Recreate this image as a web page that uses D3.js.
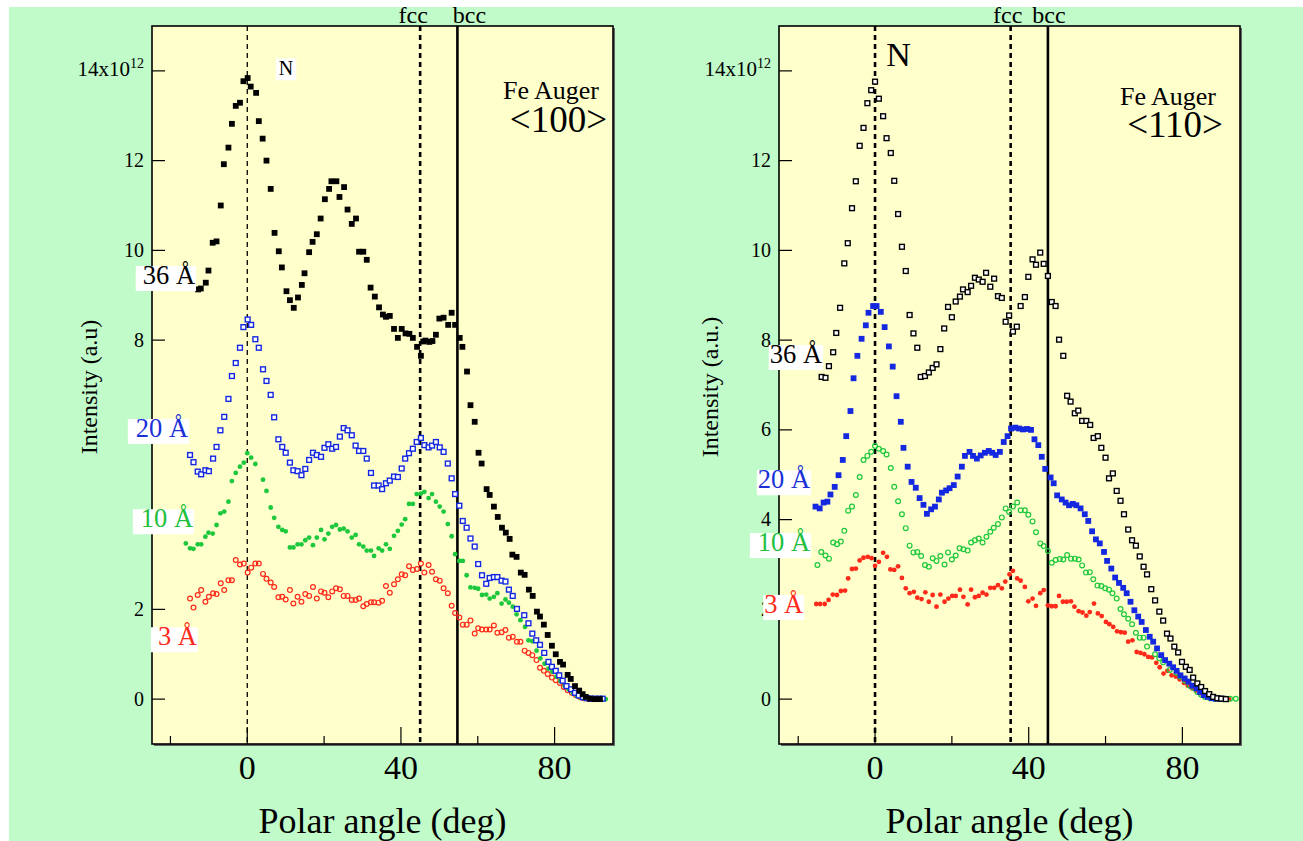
<!DOCTYPE html>
<html><head><meta charset="utf-8">
<script src="https://cdn.jsdelivr.net/npm/d3@7"></script>
<style>
body{margin:0;background:#fff;}
svg{display:block;font-family:"Liberation Serif","Times New Roman",serif;}
</style>
</head><body>
<svg id="c" width="1303" height="841"></svg>
<script>
// ---------- data: [polar angle (deg), intensity (x1e12)] ----------
const fe100_36 = [[-12.8,9.13],[-12.1,9.15],[-10.8,9.28],[-10.1,9.55],[-9.0,10.17],[-8.0,10.20],[-6.9,11.0],[-6.1,11.92],[-4.9,12.29],[-4.0,12.82],[-3.0,13.22],[-1.9,13.29],[-1.0,13.77],[0.1,13.84],[0.9,13.65],[2.3,13.51],[3.0,12.88],[4.0,12.49],[5.0,12.0],[6.1,11.37],[7.1,10.39],[8.2,9.98],[9.0,9.62],[10.2,9.09],[11.1,8.89],[12.1,8.72],[13.2,8.95],[14.2,9.23],[14.9,9.49],[16.1,9.96],[17.0,10.19],[18.1,10.36],[19.1,10.71],[20.2,11.14],[21.3,11.37],[21.9,11.54],[23.2,11.54],[24.0,11.19],[25.2,11.41],[26.1,10.91],[27.2,10.59],[28.3,10.71],[29.1,9.97],[30.2,9.97],[31.1,9.79],[32.1,9.17],[33.2,8.97],[34.3,8.73],[35.3,8.57],[36.1,8.52],[37.1,8.54],[38.2,8.25],[39.2,8.05],[40.2,8.25],[41.2,8.15],[42.2,8.14],[43.1,8.05],[44.2,7.85],[45.2,7.65],[45.8,7.97],[46.4,7.99],[47.4,7.96],[48.2,7.98],[49.1,8.12],[50.0,8.48],[51.1,8.50],[52.3,8.34],[53.2,8.61],[54.1,8.34],[55.3,8.05],[56.0,7.85],[57.2,7.30],[58.1,6.55],[59.2,6.18],[60.2,5.49],[61.0,5.25],[62.3,4.68],[63.1,4.55],[64.2,4.29],[65.2,4.06],[66.3,3.82],[67.3,3.71],[68.3,3.57],[69.0,3.22],[70.1,3.17],[71.2,2.82],[72.2,2.77],[73.3,2.44],[74.3,2.30],[75.4,1.95],[76.2,1.84],[77.2,1.66],[78.2,1.43],[79.3,1.19],[80.3,1.0],[81.4,0.83],[82.2,0.77],[83.4,0.54],[84.2,0.45],[85.3,0.29],[86.4,0.19],[87.3,0.11],[88.1,0.05],[89.2,0.01],[90.5,0],[91.8,0]];
const fe100_20 = [[-14.9,5.44],[-14.0,5.28],[-12.9,5.07],[-12.0,5.01],[-10.9,5.10],[-10.0,5.08],[-8.9,5.36],[-8.0,5.62],[-7.0,5.99],[-6.0,6.29],[-4.9,6.69],[-4.0,7.20],[-3.0,7.49],[-1.9,7.83],[-1.0,8.29],[0.1,8.46],[1.0,8.34],[2.1,8.02],[3.0,7.83],[4.1,7.35],[5.0,7.09],[6.1,6.78],[7.0,6.28],[8.1,5.79],[9.1,5.62],[10.0,5.49],[11.1,5.27],[12.0,5.10],[13.1,5.08],[14.1,4.99],[15.1,5.13],[16.1,5.33],[17.1,5.49],[18.1,5.44],[19.2,5.40],[20.1,5.60],[21.1,5.68],[22.1,5.58],[23.1,5.62],[24.1,5.85],[25.1,6.04],[26.1,5.99],[27.2,5.88],[28.2,5.65],[29.1,5.53],[30.2,5.53],[31.1,5.36],[32.2,5.04],[33.0,4.76],[34.2,4.76],[35.1,4.68],[36.1,4.81],[37.1,4.87],[38.2,4.96],[39.2,4.95],[40.2,5.14],[41.1,5.36],[42.1,5.48],[43.1,5.58],[44.1,5.73],[45.2,5.82],[46.1,5.66],[47.2,5.61],[48.1,5.65],[49.1,5.73],[50.1,5.61],[51.1,5.51],[52.2,5.25],[53.2,4.92],[54.1,4.57],[55.2,4.31],[56.1,3.97],[57.1,3.82],[58.1,3.58],[59.2,3.40],[60.1,3.01],[61.1,2.76],[62.2,2.57],[63.1,2.70],[64.2,2.72],[65.1,2.72],[66.2,2.64],[67.2,2.62],[68.1,2.44],[69.1,2.30],[70.2,2.01],[72.1,1.87],[73.2,1.69],[74.2,1.46],[75.2,1.31],[76.2,1.21],[77.3,1.03],[78.4,0.83],[79.3,0.72],[80.3,0.63],[81.2,0.53],[82.1,0.41],[83.1,0.29],[84.3,0.22],[85.3,0.14],[86.3,0.08],[87.4,0.04],[88.5,0.02],[89.5,0.01],[90.5,0.01],[91.6,0.01],[92.5,0.01]];
const fe100_10 = [[-16.0,3.47],[-14.9,3.36],[-14.0,3.35],[-12.9,3.45],[-12.0,3.45],[-10.9,3.62],[-10.1,3.71],[-9.0,3.69],[-8.0,3.88],[-7.0,4.14],[-6.0,4.18],[-4.9,4.40],[-4.0,4.86],[-3.0,5.04],[-1.9,5.18],[-0.9,5.27],[0.0,5.48],[1.0,5.38],[2.1,5.24],[4.1,4.89],[5.0,4.64],[6.1,4.27],[7.0,4.04],[8.1,3.84],[9.1,3.77],[10.0,3.74],[11.1,3.38],[12.0,3.38],[13.1,3.45],[14.1,3.45],[15.1,3.54],[16.1,3.60],[17.1,3.43],[18.1,3.60],[19.2,3.77],[20.1,3.56],[21.1,3.69],[22.1,3.84],[23.1,3.88],[24.1,3.78],[25.1,3.80],[26.1,3.74],[27.2,3.60],[28.2,3.66],[29.1,3.45],[30.2,3.40],[31.1,3.31],[32.2,3.31],[33.0,3.19],[34.2,3.36],[35.1,3.31],[36.1,3.45],[37.1,3.35],[38.2,3.64],[39.2,3.75],[40.2,3.89],[41.1,4.01],[42.1,4.35],[43.1,4.35],[44.1,4.57],[45.2,4.58],[46.1,4.62],[47.2,4.48],[48.1,4.57],[49.1,4.40],[50.1,4.29],[51.1,4.18],[52.2,3.90],[53.2,3.63],[54.1,3.23],[55.2,3.08],[56.1,3.08],[57.1,2.76],[58.1,2.49],[59.2,2.48],[60.1,2.46],[61.1,2.32],[62.2,2.33],[63.1,2.24],[64.2,2.28],[65.1,2.36],[66.2,2.13],[67.2,2.22],[68.1,2.15],[69.1,2.06],[70.1,1.89],[71.1,1.76],[72.3,1.61],[73.2,1.31],[74.2,1.29],[75.3,1.08],[76.3,0.91],[77.4,0.79],[78.4,0.68],[79.4,0.61],[80.5,0.50],[81.5,0.41],[82.6,0.30],[83.6,0.22],[84.7,0.14],[85.7,0.08],[86.7,0.04],[87.8,0.01],[88.8,0.01],[90.0,0],[91.3,0],[93.3,0]];
const fe100_3 = [[-14.9,2.24],[-14.0,2.04],[-12.9,2.32],[-12.0,2.43],[-10.9,2.17],[-10.0,2.28],[-8.9,2.36],[-8.0,2.34],[-6.9,2.58],[-6.0,2.43],[-4.9,2.65],[-4.0,2.65],[-3.0,3.10],[-1.9,3.00],[-0.9,3.02],[0.1,2.82],[1.0,2.93],[2.1,3.02],[3.0,3.02],[4.1,2.79],[5.0,2.68],[6.1,2.60],[7.0,2.50],[8.1,2.27],[9.1,2.28],[10.0,2.22],[11.1,2.43],[12.0,2.13],[13.1,2.28],[14.1,2.17],[15.1,2.34],[16.1,2.30],[17.1,2.50],[18.1,2.24],[19.2,2.40],[20.1,2.37],[21.1,2.27],[22.1,2.40],[23.1,2.47],[24.1,2.45],[25.1,2.30],[26.1,2.30],[27.2,2.21],[28.2,2.21],[29.1,2.24],[30.2,2.07],[31.1,2.12],[32.2,2.16],[33.0,2.16],[34.2,2.15],[35.1,2.19],[36.1,2.52],[37.1,2.37],[38.2,2.56],[39.2,2.67],[40.2,2.78],[41.1,2.76],[42.1,2.96],[43.1,2.88],[44.2,2.90],[45.2,3.02],[46.1,2.82],[47.2,2.99],[48.1,2.84],[49.1,2.67],[50.1,2.64],[51.1,2.47],[52.2,2.36],[53.2,2.08],[54.1,1.92],[55.2,1.82],[56.1,1.66],[57.1,1.66],[58.1,1.75],[59.2,1.46],[60.1,1.58],[61.1,1.55],[62.2,1.55],[63.1,1.55],[64.2,1.64],[65.1,1.48],[66.2,1.49],[67.2,1.54],[68.1,1.37],[69.1,1.39],[70.2,1.28],[71.1,1.28],[72.2,1.08],[73.2,1.03],[74.2,0.98],[75.3,0.87],[76.2,0.70],[77.2,0.63],[78.2,0.56],[79.3,0.48],[80.3,0.42],[81.4,0.36],[82.4,0.27],[83.4,0.20],[84.5,0.14],[85.5,0.09],[86.6,0.05],[87.6,0.02],[88.7,0.01],[90.0,0]];

const fe110_36 = [[-13.9,7.18],[-12.9,7.16],[-12.0,7.42],[-10.9,7.73],[-10.1,8.16],[-9.1,8.72],[-8.0,9.71],[-7.1,10.16],[-6.0,10.94],[-5.0,11.54],[-4.0,12.33],[-3.0,12.73],[-2.0,13.28],[-1.0,13.57],[0,13.76],[1.0,13.38],[2.1,12.99],[3.0,12.5],[4.1,12.17],[5.0,11.55],[6.0,10.81],[7.0,10.08],[8.0,9.54],[9.0,8.56],[10.0,8.15],[11.0,7.83],[11.9,7.18],[13.0,7.20],[14.0,7.28],[15.0,7.38],[16.0,7.46],[17.0,7.80],[18.0,8.26],[19.0,8.74],[20.0,8.51],[21.0,8.86],[22.1,8.97],[22.9,9.13],[24.1,9.07],[25.0,9.21],[26.0,9.39],[27.0,9.35],[28.0,9.30],[28.9,9.50],[30.0,9.19],[31.0,9.37],[32.0,8.98],[33.0,8.94],[34.0,8.41],[34.9,8.55],[35.9,8.19],[36.9,8.30],[37.9,8.76],[39.0,8.96],[39.9,9.41],[41.0,9.80],[41.9,9.68],[43.0,9.95],[43.9,9.70],[45.0,9.43],[46.0,8.85],[47.0,8.76],[47.9,8.01],[49.0,7.65],[50.0,6.76],[50.9,6.63],[52.0,6.37],[52.9,6.43],[53.9,6.20],[55.0,6.20],[56.0,6.11],[56.9,5.82],[58.0,5.86],[58.9,5.60],[60.0,5.38],[60.9,4.92],[61.9,5.03],[62.9,4.64],[63.9,4.42],[64.8,4.12],[65.9,3.78],[66.9,3.54],[67.9,3.42],[68.9,3.18],[69.9,2.95],[70.8,2.78],[71.9,2.45],[72.9,2.20],[74.0,1.95],[75.0,1.75],[76.0,1.46],[76.9,1.35],[77.9,1.17],[78.9,1.04],[79.9,0.83],[80.9,0.72],[81.9,0.65],[82.8,0.48],[83.9,0.35],[84.9,0.27],[85.9,0.18],[87.0,0.11],[88.0,0.05],[89.1,0.02],[90.1,0.01],[91.3,0]];
const fe110_20 = [[-15.5,4.29],[-14.4,4.25],[-13.4,4.38],[-12.4,4.40],[-11.6,4.56],[-10.5,4.73],[-9.5,4.99],[-8.4,5.33],[-7.5,5.86],[-6.4,6.42],[-5.6,7.15],[-4.6,7.65],[-3.5,8.03],[-2.4,8.33],[-1.7,8.61],[-0.5,8.76],[0.4,8.76],[1.5,8.63],[2.5,8.29],[3.6,7.86],[4.6,7.41],[5.6,6.75],[6.7,6.18],[7.4,5.60],[8.5,5.18],[9.5,4.84],[10.6,4.71],[11.6,4.48],[12.6,4.33],[13.5,4.13],[14.6,4.23],[15.6,4.29],[16.6,4.45],[17.4,4.60],[18.5,4.65],[19.4,4.70],[20.5,4.77],[21.5,4.96],[22.6,5.18],[23.4,5.42],[24.6,5.51],[25.5,5.42],[26.5,5.36],[27.5,5.43],[28.6,5.49],[29.6,5.53],[30.5,5.49],[31.4,5.44],[32.5,5.51],[33.5,5.73],[34.5,5.86],[35.4,6.03],[36.5,6.05],[37.5,6.03],[38.5,6.01],[39.6,6.02],[40.6,6.0],[41.5,5.79],[42.5,5.66],[43.4,5.40],[44.3,5.13],[45.7,4.94],[46.5,4.81],[47.4,4.54],[48.6,4.45],[49.6,4.38],[50.5,4.32],[51.5,4.35],[52.4,4.32],[53.5,4.25],[54.6,4.12],[55.5,3.97],[56.5,3.74],[57.5,3.56],[58.5,3.47],[59.6,3.28],[60.4,3.08],[61.5,2.91],[62.5,2.71],[63.5,2.59],[64.6,2.48],[65.5,2.36],[66.5,2.17],[67.5,1.98],[68.5,1.84],[69.4,1.72],[70.5,1.54],[71.5,1.39],[72.4,1.28],[73.4,1.13],[74.5,0.98],[75.5,0.87],[76.6,0.79],[77.6,0.71],[78.5,0.63],[79.5,0.53],[80.6,0.46],[81.6,0.39],[82.6,0.30],[83.7,0.24],[84.6,0.16],[85.6,0.09],[86.6,0.05],[87.7,0.02],[88.7,0.01],[89.8,0.01],[90.8,0.01]];
const fe110_10 = [[-15.0,2.99],[-14.0,3.28],[-12.9,3.20],[-12.0,3.13],[-10.9,3.49],[-9.9,3.45],[-8.9,3.51],[-8.0,3.75],[-7.0,4.20],[-6.0,4.29],[-5.0,4.55],[-4.0,4.95],[-3.0,5.33],[-2.0,5.42],[-1.0,5.51],[0,5.64],[1.0,5.58],[2.1,5.53],[3.0,5.45],[4.1,5.15],[5.0,4.73],[6.0,4.41],[7.0,4.12],[8.0,3.81],[9.0,3.42],[10.0,3.27],[11.0,3.28],[12.0,3.19],[13.0,2.99],[14.0,2.95],[15.0,3.14],[16.0,3.08],[17.0,3.19],[18.1,3.00],[19.0,3.27],[20.0,3.11],[21.0,3.20],[22.0,3.36],[23.0,3.34],[24.1,3.31],[25.0,3.49],[26.0,3.54],[27.0,3.58],[28.0,3.49],[29.0,3.62],[30.0,3.73],[30.9,3.82],[32.0,3.90],[33.0,4.05],[34.0,4.25],[34.9,4.17],[35.9,4.29],[37.0,4.38],[37.9,4.21],[39.0,4.21],[39.9,4.11],[41.0,3.96],[41.9,3.72],[43.0,3.47],[43.9,3.41],[45.0,3.30],[46.0,3.04],[47.0,3.10],[48.1,3.12],[49.0,3.11],[50.0,3.21],[51.0,3.13],[52.0,3.13],[53.0,3.11],[53.9,2.98],[54.9,2.82],[55.9,2.83],[56.8,2.67],[57.9,2.53],[58.9,2.52],[59.9,2.47],[60.9,2.44],[61.8,2.36],[62.9,2.24],[63.9,2.01],[64.8,1.89],[65.9,1.79],[66.9,1.67],[67.9,1.48],[68.9,1.37],[69.9,1.37],[70.8,1.17],[72.9,1.00],[74.0,0.91],[75.0,0.82],[76.7,0.65],[78.5,0.59],[79.5,0.50],[80.7,0.41],[81.9,0.30],[83.0,0.24],[83.9,0.16],[84.9,0.10],[85.9,0.05],[87.2,0.02],[88.5,0.01],[89.8,0.01],[91.1,0.01],[92.4,0.01],[93.9,0.01]];
const fe110_3 = [[-15.3,2.12],[-14.3,2.12],[-13.1,2.12],[-12.1,2.21],[-11.0,2.33],[-9.9,2.32],[-8.9,2.41],[-7.8,2.42],[-7.0,2.69],[-6.0,2.90],[-5.0,2.91],[-4.0,3.09],[-3.0,3.15],[-1.9,3.17],[-0.9,3.14],[0,2.97],[1.0,3.06],[2.1,3.26],[3.1,3.17],[4.0,2.89],[5.0,2.88],[6.0,2.96],[7.0,2.70],[8.0,2.47],[9.0,2.36],[10.1,2.39],[11.0,2.26],[12.1,2.23],[13.1,2.38],[14.0,2.17],[15.0,2.32],[16.0,2.06],[17.0,2.33],[18.1,2.17],[19.1,2.24],[20.1,2.30],[21.0,2.30],[22.1,2.44],[23.0,2.28],[24.1,2.11],[25.0,2.44],[26.0,2.27],[27.0,2.30],[28.0,2.37],[29.0,2.33],[30.0,2.48],[31.0,2.48],[32.0,2.54],[33.0,2.47],[33.9,2.62],[35.0,2.78],[35.9,2.86],[37.0,2.69],[37.9,2.64],[39.0,2.50],[39.9,2.18],[41.0,2.24],[41.9,2.08],[43.0,2.36],[43.9,2.43],[45.0,2.09],[46.0,2.07],[47.0,2.07],[47.9,2.30],[48.9,2.17],[49.9,2.17],[51.0,2.18],[51.9,2.06],[53.0,1.96],[54.0,1.93],[55.0,1.86],[55.9,1.94],[57.0,2.13],[58.0,1.91],[59.0,1.85],[60.1,1.72],[61.0,1.67],[62.0,1.61],[63.0,1.51],[64.0,1.49],[65.0,1.48],[65.9,1.28],[67.0,1.31],[68.1,1.05],[69.1,1.03],[70.1,1.00],[71.1,0.94],[72.1,0.93],[73.2,0.81],[74.1,0.71],[75.1,0.57],[76.1,0.63],[77.2,0.53],[78.3,0.50],[79.3,0.44],[80.4,0.36],[81.4,0.30],[82.5,0.24],[83.5,0.19],[84.6,0.13],[85.6,0.08],[86.6,0.05],[87.7,0.02],[88.7,0.01],[89.8,0.01],[91.1,0],[92.1,0]];

const xTicks = [-20, 0, 20, 40, 60, 80];
const xTickLabels = [0, 40, 80];
const yTicks = [0, 2, 4, 6, 8, 10, 12, 14];
const seriesNames = ["36 Å", "20 Å", "10 Å", "3 Å"];
const panelTitles = ["<100>", "<110>"];
const structureNames = ["fcc", "bcc"];

// ---------- layout / styling ----------
const svg = d3.select("#c");
svg.append("rect").attr("x", 9).attr("y", 7).attr("width", 1303 - 9).attr("height", 841 - 7).attr("fill", "#c1fbca");

const BLACK = "#000", BLUE = "#1428e0", GREEN = "#1ec83c", RED = "#ff2a1a";

const panels = [
  {
    x0: 152, x1: 613, domain: [-24.8, 95.2], yLabel: "Intensity (a.u)", titleX: 97,
    series: [
      {data: fe100_3, color: RED, shape: "circle", filled: false},
      {data: fe100_10, color: GREEN, shape: "circle", filled: true},
      {data: fe100_20, color: BLUE, shape: "square", filled: false},
      {data: fe100_36, color: BLACK, shape: "square", filled: true}
    ],
    lines: [{x: 0, w: 1.3, dash: "5,4"}, {x: 45, w: 2.6, dash: "5,4"}, {x: 54.7, w: 2.6, dash: null}],
    structLabels: [{x: 45, dx: -7}, {x: 54.7, dx: 12}],
    nLabel: {x: 10.1, y: 13.9, size: 20, anchor: "middle", box: true},
    labels: [
      {t: 0, x: -13.6, y: 9.25, color: BLACK, padL: 7},
      {t: 1, x: -15.4, y: 5.84, color: "#1a30d8", padL: 8},
      {t: 2, x: -14.1, y: 3.83, color: "#22c03c", padL: 8},
      {t: 3, x: -13.1, y: 1.20, color: "#ff2a1a", padL: 7}
    ],
    fe: {dx1: -14, y1: 99, dx2: -6, y2: 132}
  },
  {
    x0: 779, x1: 1240, domain: [-25, 95], yLabel: "Intensity (a.u.)", titleX: 718,
    series: [
      {data: fe110_3, color: RED, shape: "circle", filled: true},
      {data: fe110_10, color: GREEN, shape: "circle", filled: false},
      {data: fe110_20, color: BLUE, shape: "square", filled: true},
      {data: fe110_36, color: BLACK, shape: "square", filled: false}
    ],
    lines: [{x: 0, w: 2.6, dash: "5,4"}, {x: 35.3, w: 2.6, dash: "5,4"}, {x: 45, w: 2.6, dash: null}],
    structLabels: [{x: 35.3, dx: -3}, {x: 45, dx: 1}],
    nLabel: {x: 2.9, y: 14.1, size: 34, anchor: "start", box: false},
    labels: [
      {t: 0, x: -13.8, y: 7.49, color: BLACK, padL: 1},
      {t: 1, x: -16.9, y: 4.70, color: "#1a30d8", padL: 1},
      {t: 2, x: -16.9, y: 3.30, color: "#22c03c", padL: 8},
      {t: 3, x: -18.7, y: 1.92, color: "#ff2a1a", padL: 1}
    ],
    fe: {dx1: -24, y1: 105, dx2: -17, y2: 137}
  }
];

const Y0 = 26, Y1 = 744;
const LABEL_FS = 26.5;

panels.forEach((p, pi) => {
  const x = d3.scaleLinear().domain(p.domain).range([p.x0, p.x1]);
  const y = d3.scaleLinear().domain([-1, 15]).range([Y1, Y0]);
  const g = svg.append("g");

  // plot background (with slight shadow)
  g.append("rect").attr("x", p.x0 + 2).attr("y", Y0 + 2).attr("width", p.x1 - p.x0).attr("height", Y1 - Y0).attr("fill", "#666");
  g.append("rect").attr("x", p.x0).attr("y", Y0).attr("width", p.x1 - p.x0).attr("height", Y1 - Y0).attr("fill", "#ffffcc");

  // reference lines
  p.lines.forEach(l => {
    g.append("line").attr("x1", x(l.x)).attr("x2", x(l.x)).attr("y1", Y0).attr("y2", Y1)
      .attr("stroke", "#000").attr("stroke-width", l.w).attr("stroke-dasharray", l.dash);
  });

  // x ticks (inward)
  xTicks.forEach(t => {
    const len = (t % 40 === 0) ? 17 : 8;
    g.append("line").attr("x1", x(t)).attr("x2", x(t)).attr("y1", Y1).attr("y2", Y1 - len).attr("stroke", "#000").attr("stroke-width", 1.2);
  });
  xTickLabels.forEach(t => {
    g.append("text").attr("x", x(t)).attr("y", 779).attr("text-anchor", "middle")
      .attr("font-size", 34).attr("fill", "#000").text(t);
  });
  // y ticks
  yTicks.forEach(t => {
    g.append("line").attr("x1", p.x0).attr("x2", p.x0 + 13).attr("y1", y(t)).attr("y2", y(t)).attr("stroke", "#000").attr("stroke-width", 1.2);
    const tx = g.append("text").attr("x", p.x0 - 8).attr("y", y(t) + 6.5).attr("text-anchor", "end")
      .attr("font-size", 20).attr("fill", "#000");
    if (t === 14) {
      tx.attr("y", y(t) + 5.5).attr("font-size", 21);
      tx.append("tspan").text("14x10");
      tx.append("tspan").attr("dy", -8).attr("font-size", 14).text("12");
    } else tx.text(t);
  });

  // frame
  g.append("rect").attr("x", p.x0).attr("y", Y0).attr("width", p.x1 - p.x0).attr("height", Y1 - Y0)
    .attr("fill", "none").attr("stroke", "#000").attr("stroke-width", 1.6);

  // series
  p.series.forEach(s => {
    const sg = g.append("g");
    if (s.shape === "square") {
      const sz = s.filled ? 5.8 : 4.8;
      sg.selectAll("rect").data(s.data).join("rect")
        .attr("x", d => x(d[0]) - sz / 2).attr("y", d => y(d[1]) - sz / 2)
        .attr("width", sz).attr("height", sz)
        .attr("fill", s.filled ? s.color : "#fff")
        .attr("stroke", s.filled ? "none" : s.color).attr("stroke-width", 1.4);
    } else {
      const r = s.filled ? 2.4 : 2.4;
      sg.selectAll("circle").data(s.data).join("circle")
        .attr("cx", d => x(d[0])).attr("cy", d => y(d[1])).attr("r", r)
        .attr("fill", s.filled ? s.color : "none")
        .attr("stroke", s.filled ? "none" : s.color).attr("stroke-width", 1.2);
    }
  });

  // structure labels above frame
  p.structLabels.forEach((sl, i) => {
    g.append("text").attr("x", x(sl.x) + sl.dx).attr("y", 23).attr("text-anchor", "middle")
      .attr("font-size", 24).attr("fill", "#000").text(structureNames[i]);
  });

  // N label
  const nt = g.append("text").attr("x", x(p.nLabel.x)).attr("y", y(p.nLabel.y)).attr("text-anchor", p.nLabel.anchor)
    .attr("font-size", p.nLabel.size).attr("fill", "#000").text("N");
  if (p.nLabel.box) {
    const b = nt.node().getBBox();
    g.insert("rect", () => nt.node()).attr("x", b.x - 3).attr("y", b.y + 1)
      .attr("width", b.width + 6).attr("height", b.height).attr("fill", "#fff");
  }

  // Fe Auger title
  g.append("text").attr("x", p.x1 + p.fe.dx1).attr("y", p.fe.y1).attr("text-anchor", "end")
    .attr("font-size", 26).attr("fill", "#000").text("Fe Auger");
  g.append("text").attr("x", p.x1 + p.fe.dx2).attr("y", p.fe.y2).attr("text-anchor", "end")
    .attr("font-size", 37).attr("fill", "#000").text(panelTitles[pi]);

  // thickness labels with white boxes
  p.labels.forEach(l => {
    const bx = x(l.x), by = y(l.y);
    const t = g.append("text").attr("x", bx).attr("y", by).attr("text-anchor", "end")
      .attr("font-size", LABEL_FS).attr("fill", l.color).text(seriesNames[l.t]);
    const b = t.node().getBBox();
    g.insert("rect", () => t.node())
      .attr("x", b.x - l.padL).attr("y", by - LABEL_FS * 0.68)
      .attr("width", b.width + l.padL + 1).attr("height", LABEL_FS * 0.68 + 7)
      .attr("fill", "#fff");
  });

  // axis titles
  g.append("text").attr("transform", `translate(${p.titleX},${(Y0 + Y1) / 2 + 2}) rotate(-90)`)
    .attr("text-anchor", "middle").attr("font-size", 24).attr("fill", "#000").text(p.yLabel);
  g.append("text").attr("x", (p.x0 + p.x1) / 2).attr("y", 833).attr("text-anchor", "middle")
    .attr("font-size", 36).attr("fill", "#000").text("Polar angle (deg)");
});
</script>
</body></html>
